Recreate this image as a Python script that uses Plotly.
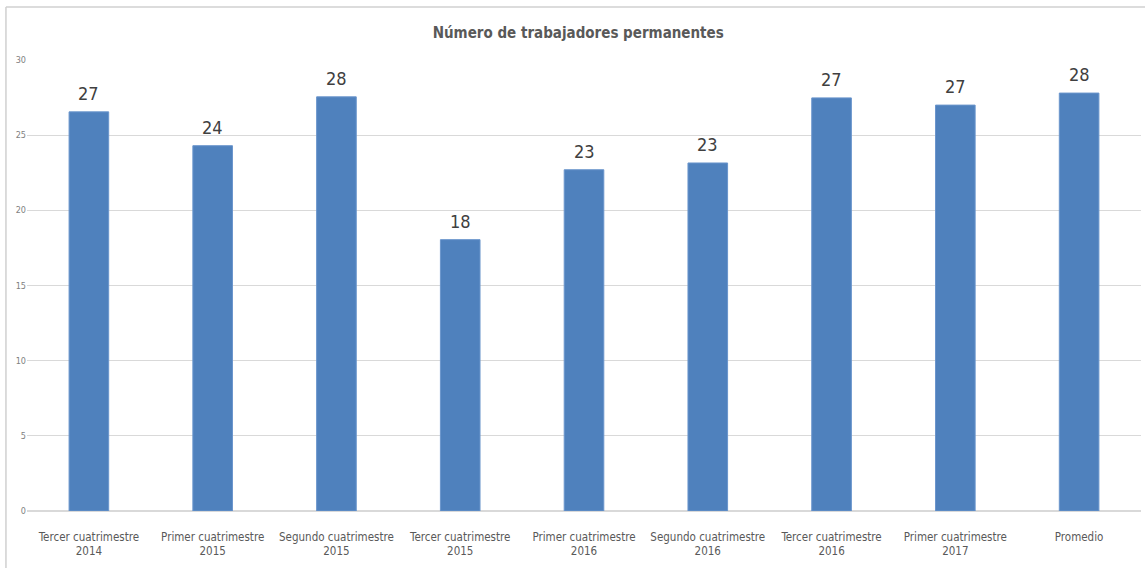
import plotly.graph_objects as go

categories = ["Tercer cuatrimestre<br>2014", "Primer cuatrimestre<br>2015", "Segundo cuatrimestre<br>2015",
              "Tercer cuatrimestre<br>2015", "Primer cuatrimestre<br>2016", "Segundo cuatrimestre<br>2016",
              "Tercer cuatrimestre<br>2016", "Primer cuatrimestre<br>2017", "Promedio"]
values = [26.55, 24.3, 27.55, 18.05, 22.7, 23.15, 27.48, 27.0, 27.8]
labels = [str(round(v)) for v in values]
yticks = [0, 5, 10, 15, 20, 25, 30]

font_main = "DejaVu Sans Condensed, Lato, sans-serif"

fig = go.Figure(go.Bar(
    x=categories, y=values,
    marker=dict(color="#4f81bd", line=dict(color="#6a95cc", width=1)),
    width=0.32, cliponaxis=False, hoverinfo="x+y",
))

for c, v, t in zip(categories, values, labels):
    fig.add_annotation(x=c, y=v, text=t, showarrow=False, yanchor="bottom", yshift=6,
                       font=dict(size=18, color="#404040", family=font_main))

fig.update_layout(
    width=1145, height=568,
    margin=dict(l=27, r=4, t=60, b=57, autoexpand=False),
    paper_bgcolor="white", plot_bgcolor="white",
    showlegend=False,
    title=dict(text="<b>Número de trabajadores permanentes</b>", x=0.505, xanchor="center",
               y=0.943, yanchor="middle",
               font=dict(size=15, color="#595959", family=font_main)),
    xaxis=dict(showline=False, ticks="", tickangle=0, automargin=False, ticklabelstandoff=17,
               tickfont=dict(size=11.5, color="#595959", family=font_main)),
    yaxis=dict(range=[0, 30], tickvals=yticks, showgrid=True, gridcolor="#d9d9d9", gridwidth=1,
               zeroline=True, zerolinecolor="#d9d9d9", ticks="", automargin=False,
               tickfont=dict(size=9, color="#7f7f7f", family=font_main)),
    shapes=[
        dict(type="line", xref="paper", yref="paper", x0=-0.0189, x1=1.01, y0=1.1175, y1=1.1175,
             line=dict(color="#d0d0d0", width=1.5), layer="above"),
        dict(type="line", xref="paper", yref="paper", x0=-0.0189, x1=-0.0189, y0=-0.2, y1=1.1175,
             line=dict(color="#d0d0d0", width=1.5), layer="above"),
    ],
)

fig.write_html("out.html", post_script="document.body.style.margin='0px';",
               config={"displayModeBar": False})
